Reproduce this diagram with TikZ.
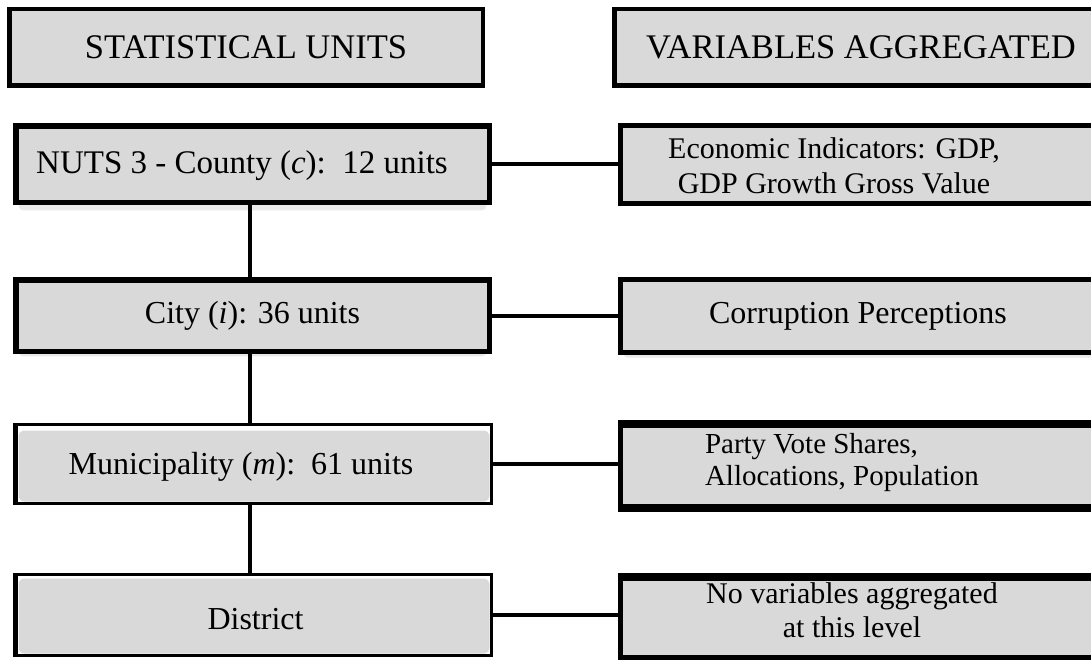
\documentclass[tikz,border=0pt]{standalone}
\usepackage{fontspec}
\setmainfont{Liberation Serif}
\usetikzlibrary{backgrounds,calc}
\definecolor{boxgray}{HTML}{D9D9D9}
\definecolor{shadowgray}{HTML}{E9E9E9}
\begin{document}
\begin{tikzpicture}[x=1pt,y=-1pt,
  box/.style={draw=black, fill=boxgray, rectangle, inner sep=0pt, outer sep=0pt,
              font=\fontsize{32}{35}\selectfont, align=center},
  hdr/.style={box, line width=4.5pt, font=\fontsize{34.5}{38}\selectfont},
  lbox/.style={box, line width=5.5pt},
  thinbox/.style={box, fill=none, line width=3pt},
  rbox/.style={box, line width=5pt},
  txt/.style={inner sep=0pt, outer sep=0pt},
  link/.style={line width=4pt},
  thickedge/.style={line width=8pt},
  shade/.style={fill=shadowgray, rounded corners=4pt},
  inner/.style={fill=boxgray, rounded corners=6pt}]
\useasboundingbox (0,0) rectangle (1091,659);

% headers
\node[hdr, minimum width=473.5pt, minimum height=76.5pt] (hL) at (246,47) {STATISTICAL UNITS};
\node[hdr, minimum width=493.5pt, minimum height=76.5pt] (hR) at (861,47) {VARIABLES AGGREGATED};

% left column boxes
\node[lbox, minimum width=473.5pt, minimum height=76.5pt] (b1) at (252.5,164) {};
\node[lbox, minimum width=473.5pt, minimum height=71.5pt] (b2) at (252.5,315.5) {City (\textit{i}): 36 units};
\node[thinbox, minimum width=477pt, minimum height=79pt] (b3) at (253,464) {};
\node[thinbox, minimum width=477pt, minimum height=81pt] (b4) at (253,615) {};

% right column boxes
\node[rbox, minimum width=487pt, minimum height=78pt] (r1) at (864,164.5) {};
\node[rbox, minimum width=487pt, minimum height=73pt] (r2) at (864,316) {};
\node[rbox, minimum width=487pt, minimum height=87pt] (r3) at (864,466) {};
\node[rbox, minimum width=487pt, minimum height=82pt] (r4) at (864,616.5) {};

% thicker edges
\draw[line width=5pt] ([xshift=1pt]b3.north west) -- ([xshift=1pt]b3.south west);
\draw[line width=5pt] ([xshift=1pt]b4.north west) -- ([xshift=1pt]b4.south west);
\draw[thickedge] ([yshift=-1.5pt]r3.north west) -- ([yshift=-1.5pt]r3.north east);
\draw[thickedge] ([yshift=1.5pt]r3.south west) -- ([yshift=1.5pt]r3.south east);
\draw[thickedge] ([yshift=-1.5pt]r4.north west) -- ([yshift=-1.5pt]r4.north east);

% connectors
\coordinate (vx) at (249.5,0);
\draw[link] (b1.south -| vx) -- (b2.north -| vx);
\draw[link] (b2.south -| vx) -- (b3.north -| vx);
\draw[link] (b3.south -| vx) -- (b4.north -| vx);
\draw[link] (b1.east) -- (b1.east -| r1.west);
\draw[link] (b2.east) -- (b2.east -| r2.west);
\draw[link] (b3.east) -- (b3.east -| r3.west);
\draw[link] (b4.east) -- (b4.east -| r4.west);

% texts
\node[txt, font=\fontsize{33}{36}\selectfont] (b1t) at (242,165.5) {NUTS 3 - County (\textit{c}):\ \ 12 units};
\node[txt, font=\fontsize{32}{35}\selectfont] (b3t) at (241,467) {Municipality (\textit{m}):\ \ 61 units};
\node[txt, font=\fontsize{32}{35}\selectfont] (b4t) at (255.5,619) {District};
\node[txt, align=center, font=\fontsize{30}{35}\selectfont] (r1t) at (834,165.5) {Economic Indicators: GDP,\\GDP Growth Gross Value};
\node[txt, font=\fontsize{32}{35}\selectfont] (r2t) at (858,316) {Corruption Perceptions};
\node[txt, anchor=west, align=left, font=\fontsize{29}{32}\selectfont] (r3t) at (705,462.3) {Party Vote Shares,\\Allocations, Population};
\node[txt, align=center, font=\fontsize{30}{34}\selectfont] (r4t) at (852,609.8) {No variables aggregated\\at this level};

% shadows and inner fills
\begin{pgfonlayer}{background}
  \fill[shade] ([xshift=3pt,yshift=2pt]b1.south west) rectangle ([xshift=-3pt,yshift=-8pt]b1.south east);
  \fill[shade] ([xshift=3pt,yshift=2pt]b2.south west) rectangle ([xshift=-3pt,yshift=-5pt]b2.south east);
  \fill[shade] ([xshift=3pt,yshift=2pt]r2.south west) rectangle ([xshift=-3pt,yshift=-5pt]r2.south east);
  \fill[inner] ([xshift=4pt,yshift=-6pt]b3.north west) rectangle ([xshift=-2pt,yshift=2pt]b3.south east);
  \fill[inner] ([xshift=4pt,yshift=-4pt]b4.north west) rectangle ([xshift=-2pt,yshift=2pt]b4.south east);
\end{pgfonlayer}
\end{tikzpicture}
\end{document}
